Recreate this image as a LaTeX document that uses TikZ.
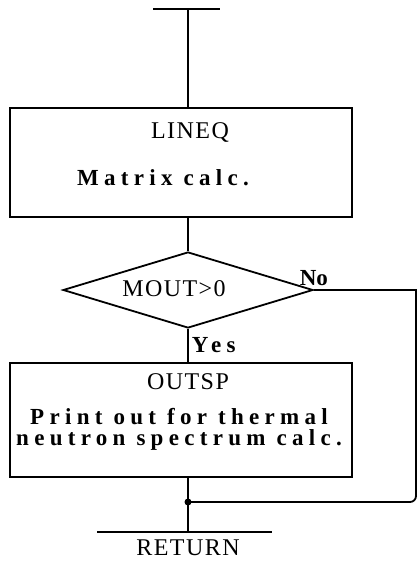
\documentclass[tikz,border=0pt]{standalone}
\usepackage{fontspec}
\setmainfont{Liberation Serif}
\newfontfamily\widefont[LetterSpace=23]{Liberation Serif}
\newfontfamily\namefont[LetterSpace=6]{Liberation Serif}
\usetikzlibrary{shapes.geometric, positioning}

\begin{document}
\begin{tikzpicture}[
    x=1pt, y=-1pt, line width=1.8pt,
    proc/.style={draw, rectangle, minimum width=342pt, inner sep=0pt},
    test/.style={draw, diamond, minimum width=250pt, minimum height=76pt, inner sep=0pt},
    lbl/.style={font=\fontsize{24}{24}\namefont, inner sep=0pt},
    txt/.style={font=\fontsize{23}{21}\widefont\bfseries, inner sep=1pt, align=center},
]
    \useasboundingbox (0,0) rectangle (418,561);
    % entry
    \coordinate (topl) at (153,9);
    \coordinate (topr) at (220,9);
    \coordinate (top) at (188,9);
    \draw (topl) -- (topr);

    % LINEQ
    \node[proc, minimum height=109pt] (lineq) at (181,162.5) {};
    \node[lbl] (lineqname) at (190,133) {LINEQ};
    \node[txt] (lineqtext) at (163,178) {Matrix calc.};
    \draw (top) -- (top |- lineq.north);

    % test
    \node[test] (mout) at (188,290) {};
    \node[lbl] (moutname) at (174,289) {MOUT>0};
    \draw (lineq.south -| mout.north) -- (mout.north);

    % OUTSP
    \node[proc, minimum height=114pt] (outsp) at (181,420) {};
    \node[lbl] (outspname) at (188,382) {OUTSP};
    \node[txt] (outsptext) at (179,429.5) {Print out for thermal\\neutron spectrum calc.};
    \draw (mout.south) -- node[txt, right=2pt] (yes) {Yes} (mout.south |- outsp.north);

    % join and exit
    \coordinate (join) at (188,502);
    \coordinate (loopc) at (416,502);
    \coordinate (retl) at (97,532);
    \coordinate (retr) at (272,532);
    \draw (mout.east) -- (mout.east -| loopc) [rounded corners=6pt] -- (loopc) -- (join);
    \node[font=\fontsize{23}{23}\selectfont\bfseries, inner sep=1pt, above=2pt of mout.east] (no) {No};
    \draw (outsp.south -| join) -- (join) -- (join |- retl);
    \fill (join) circle (3.5pt);
    \draw (retl) -- (retr);
    \node[lbl] (ret) at (188,548) {RETURN};
\end{tikzpicture}
\end{document}
